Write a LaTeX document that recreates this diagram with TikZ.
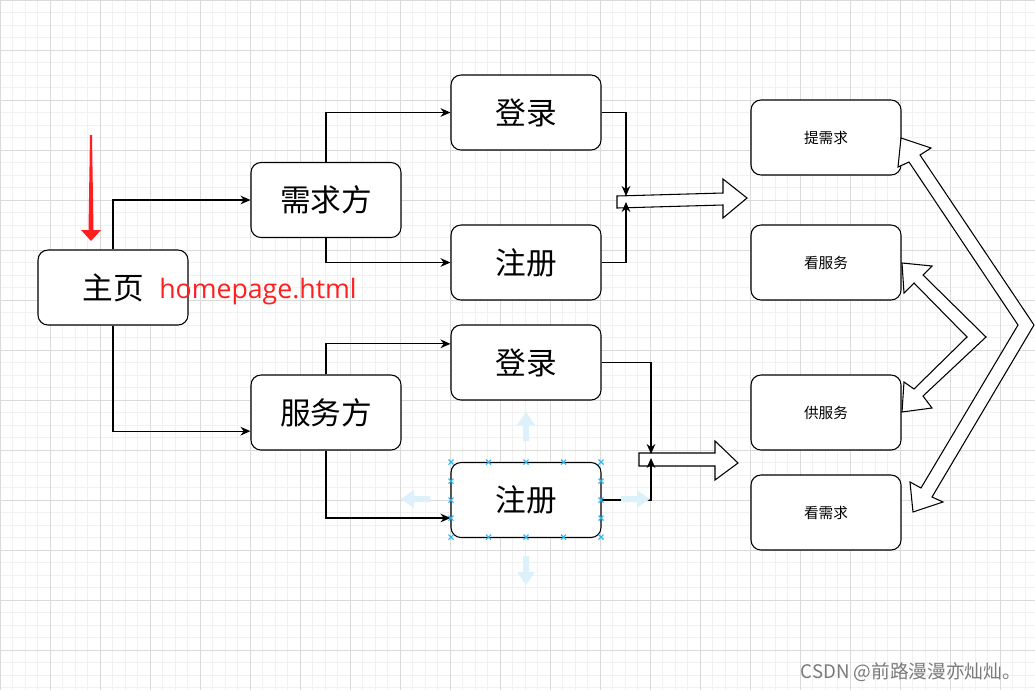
\documentclass[tikz,border=0pt]{standalone}
\usepackage{fontspec}
\setmainfont{Noto Sans CJK SC}
\newfontfamily\latinfont{Open Sans}
\usetikzlibrary{arrows.meta}
\definecolor{gridmin}{HTML}{F1F1F1}
\definecolor{gridmaj}{HTML}{DADADA}
\definecolor{hdlblue}{HTML}{29B6F2}
\definecolor{hdlpale}{HTML}{DDF1FB}
\definecolor{pgred}{HTML}{FF1F1F}
\definecolor{wmgray}{HTML}{7A7A7A}
\tikzset{
  pgbox/.style={draw, fill=white, rounded corners=7.5pt, line width=0.8pt,
                minimum width=112.5pt, minimum height=56.25pt, inner sep=0pt,
                font=\fontsize{23}{27}\selectfont},
  pgsmall/.style={pgbox, font=\fontsize{11}{13}\selectfont},
  pgar/.style={-{Stealth[length=7.5pt,width=6.5pt]}, line width=0.8pt},
  pgblock/.style={draw, fill=white, line width=0.8pt, line join=miter},
  pglab/.style={text=pgred, inner sep=0pt, font=\latinfont\fontsize{20}{24}\selectfont},
  gridminor/.style={gridmin, line width=0.75pt},
  gridmajor/.style={gridmaj, line width=0.75pt},
  hdlx/.style={hdlblue, line width=0.8pt},
  hdlarrow/.style={fill=hdlpale},
}

\begin{document}
\begin{tikzpicture}[x=0.75pt, y=-0.75pt]
  \useasboundingbox (0,0) rectangle (1035,690);
  \fill[white] (0,0) rectangle (1035,690);

  % background grid
  \foreach \i in {0,...,82} \draw[gridminor] (\i*12.5,0) -- (\i*12.5,690);
  \foreach \j in {0,...,55} \draw[gridminor] (0,\j*12.5) -- (1035,\j*12.5);
  \foreach \i in {0,...,20} \draw[gridmajor] (\i*50,0) -- (\i*50,690);
  \foreach \j in {0,...,13} \draw[gridmajor] (0,\j*50) -- (1035,\j*50);

  % pages
  \node[pgbox] (home) at (113,287.5) {主页};
  \node[pgbox] (dem)  at (326,200)   {需求方};
  \node[pgbox] (svc)  at (326,412.5) {服务方};
  \node[pgbox] (log1) at (526,112.5) {登录};
  \node[pgbox] (reg1) at (526,262.5) {注册};
  \node[pgbox] (log2) at (526,362.5) {登录};
  \node[pgbox] (reg2) at (526,500)   {注册};

  \node[pgsmall] (rq) at (826,137.5) {提需求};
  \node[pgsmall] (ks) at (826,262.5) {看服务};
  \node[pgsmall] (gs) at (826,412.5) {供服务};
  \node[pgsmall] (kx) at (826,512.5) {看需求};

  \node[pglab] (hp) at (258,292) {homepage.html};

  % red entry arrow
  \fill[pgred] (90,135) -- (92,135) -- (93.5,230) -- (101,230) -- (91,241)
    -- (81,230) -- (88.5,230) -- cycle;

  % block arrows
  \draw[pgblock] (617,196) -- (723,193) -- (723,179) -- (747,198) -- (723,218)
    -- (723,205) -- (617,208) -- cycle;
  \draw[pgblock] (639,453) -- (715,453) -- (715,441) -- (738,463) -- (715,480)
    -- (715,466) -- (639,466) -- cycle;

  % double chevron arrows
  \draw[pgblock] (901,138) -- (931,148) -- (920,155) -- (1034,325) -- (932,497)
    -- (943,502) -- (913,512) -- (910,482) -- (921,488) -- (1018,325)
    -- (909,162) -- (898,167) -- cycle;
  \draw[pgblock] (902,263) -- (932,266) -- (923,275) -- (986,337) -- (923,396)
    -- (932,408) -- (902,412) -- (904,382) -- (914,389) -- (967,337)
    -- (914,283) -- (904,293) -- cycle;

  % connectors
  \draw[pgar] (home.north) |- (dem.west);
  \draw[pgar] (home.south) |- ([yshift=-14pt]svc.west);
  \draw[pgar] (dem.north) |- (log1.west);
  \draw[pgar] (dem.south) |- (reg1.west);
  \draw[pgar] (svc.north) |- ([yshift=14pt]log2.west);
  \draw[pgar] (svc.south) |- ([yshift=-13.5pt]reg2.west);

  \coordinate (m1a) at (626,196);
  \coordinate (m1b) at (626,202);
  \coordinate (m2a) at (651,454);
  \coordinate (m2b) at (651,458);
  \draw[pgar] (log1.east) -| (m1a);
  \draw[pgar] (reg1.east) -| (m1b);
  \draw[pgar] (log2.east) -| (m2a);
  \draw[pgar] (reg2.east) -| (m2b);

  % selection handles
  \fill[hdlarrow] (526,412) -- (535,425) -- (529,425) -- (529,441) -- (523,441)
    -- (523,425) -- (517,425) -- cycle;
  \fill[hdlarrow] (526,585) -- (535,572) -- (529,572) -- (529,556) -- (523,556)
    -- (523,572) -- (517,572) -- cycle;
  \fill[hdlarrow] (401,499) -- (414,490) -- (414,496) -- (430,496) -- (430,502)
    -- (414,502) -- (414,508) -- cycle;
  \fill[hdlarrow] (650,499) -- (637,490) -- (637,496) -- (621,496) -- (621,502)
    -- (637,502) -- (637,508) -- cycle;
  \foreach \hx in {451,488.5,526,563.5,601} {
    \draw[hdlx] (\hx,462) +(-2.5,-2.5) -- +(2.5,2.5) +(-2.5,2.5) -- +(2.5,-2.5);
    \draw[hdlx] (\hx,537) +(-2.5,-2.5) -- +(2.5,2.5) +(-2.5,2.5) -- +(2.5,-2.5);
  }
  \foreach \hy in {481,500,518} {
    \draw[hdlx] (451,\hy) +(-2.5,-2.5) -- +(2.5,2.5) +(-2.5,2.5) -- +(2.5,-2.5);
    \draw[hdlx] (601,\hy) +(-2.5,-2.5) -- +(2.5,2.5) +(-2.5,2.5) -- +(2.5,-2.5);
  }

  \node[anchor=east, text=wmgray, inner sep=0pt, font=\fontsize{14}{17}\selectfont]
    (wm) at (1021,672) {CSDN @前路漫漫亦灿灿。};
\end{tikzpicture}
\end{document}
